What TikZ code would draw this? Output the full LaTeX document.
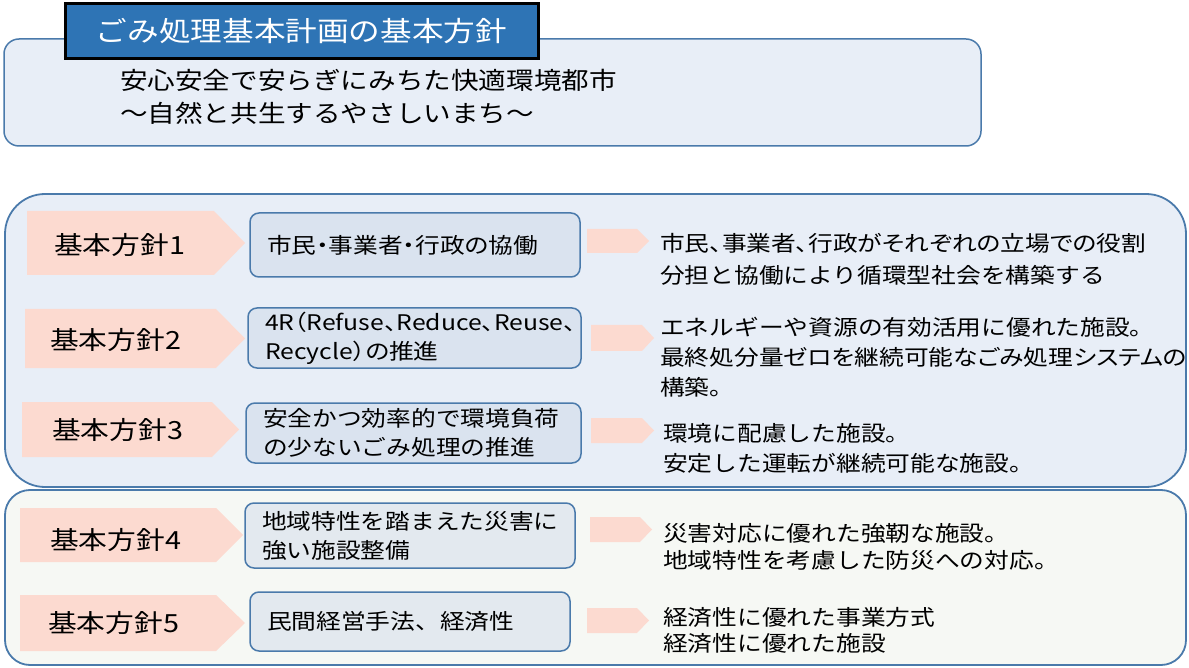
\documentclass[tikz,border=0pt]{standalone}
\usepackage{fontspec}
\setmainfont[FakeStretch=1.15]{Noto Sans CJK JP}
\definecolor{bordc}{HTML}{4A7AAB}
\definecolor{lightbg}{HTML}{E8EEF7}
\definecolor{greenbg}{HTML}{F6F8F4}
\definecolor{boxA}{HTML}{DAE3EF}
\definecolor{boxB}{HTML}{E3E9EF}
\definecolor{pinkc}{HTML}{FCDAD0}
\definecolor{headc}{HTML}{2E74B5}
\newcommand\fs[2]{\fontsize{#1}{#2}\selectfont}
\newcommand\prop{\addfontfeature{RawFeature=+palt}}
\begin{document}
\begin{tikzpicture}[x=1pt,y=-1pt,
  frame/.style={draw=bordc,line width=1.5pt},
  tbox/.style={frame,rounded corners=9pt,inner xsep=17pt,inner ysep=0pt,align=left,font=\fs{21.5}{29}},
  lbl/.style={anchor=west,inner sep=0pt,font=\fs{25}{30}},
  desc/.style={anchor=west,inner sep=0pt,align=left},
  pk/.style={fill=pinkc}
]
\useasboundingbox (0,0) rectangle (1189,668);
% top box
\draw[frame,fill=lightbg,rounded corners=15pt] (4,39) rectangle (981,146);
\node[draw=black,line width=3pt,fill=headc,text=white,minimum width=473pt,minimum height=55pt,inner sep=0pt,font=\fs{27.5}{30}] (head) at (301.5,31.5) {ごみ処理基本計画の基本方針};
\node[desc,font=\fs{24}{33}] (vision) at (120,96.5) {安心安全で安らぎにみちた快適環境都市\\～自然と共生するやさしいまち～};
% big boxes
\draw[frame,line width=1.8pt,fill=lightbg,rounded corners=40pt] (5,194) rectangle (1186,487);
\draw[frame,line width=1.8pt,fill=greenbg,rounded corners=25pt] (5,490) rectangle (1186,665);
% pentagons
\fill[pk] (27,211) -- (214,211) -- (245,243) -- (214,275) -- (27,275) -- cycle;
\fill[pk] (25,309) -- (216,309) -- (245,338.5) -- (216,368) -- (25,368) -- cycle;
\fill[pk] (22,402) -- (212,402) -- (239,429.5) -- (212,457) -- (22,457) -- cycle;
\fill[pk] (20,508) -- (216,508) -- (243,535) -- (216,562) -- (20,562) -- cycle;
\fill[pk] (20,595) -- (216,595) -- (245,623) -- (216,651) -- (20,651) -- cycle;
\node[lbl] (l1) at (54,245) {基本方針1};
\node[lbl] (l2) at (50,340) {基本方針2};
\node[lbl] (l3) at (52,430) {基本方針3};
\node[lbl] (l4) at (50,540) {基本方針4};
\node[lbl] (l5) at (48,623) {基本方針5};
% text boxes
\node[tbox,fill=boxA,minimum width=330pt,minimum height=64pt,text width=296pt] (b1) at (415,245) {\prop 市民・事業者・行政の協働};
\node[tbox,fill=boxA,minimum width=333pt,minimum height=60pt,text width=299pt] (b2) at (414.5,338) {\prop 4R（Refuse、Reduce、Reuse、\\Recycle）の推進};
\node[tbox,fill=boxA,minimum width=335pt,minimum height=60pt,text width=301pt] (b3) at (413.5,433) {安全かつ効率的で環境負荷\\の少ないごみ処理の推進};
\node[tbox,fill=boxB,minimum width=330pt,minimum height=65pt,text width=296pt] (b4) at (410,535.5) {地域特性を踏まえた災害に\\強い施設整備};
\node[tbox,fill=boxB,minimum width=320pt,minimum height=59pt,text width=286pt] (b5) at (410,621.5) {民間経営手法、経済性};
% small arrows
\fill[pk] (587,229) -- (637,229) -- (649,241) -- (637,253) -- (587,253) -- cycle;
\fill[pk] (591,325) -- (642,325) -- (654,338) -- (642,351) -- (591,351) -- cycle;
\fill[pk] (591,418) -- (642,418) -- (654,430.5) -- (642,443) -- (591,443) -- cycle;
\fill[pk] (590,517) -- (640,517) -- (652,529.5) -- (640,542) -- (590,542) -- cycle;
\fill[pk] (587,608) -- (637,608) -- (649,620.5) -- (637,633) -- (587,633) -- cycle;
% descriptions
\node[desc,font=\fs{21.5}{32}] (d1) at (660,259) {\prop 市民、事業者、行政がそれぞれの立場での役割\\分担と協働により循環型社会を構築する};
\node[desc,font=\fs{21.5}{30}] (d2) at (660,357) {エネルギーや資源の有効活用に優れた施設。\\{\prop 最終処分量ゼロを継続可能なごみ処理システムの}\\構築。};
\node[desc,font=\fs{21.5}{30}] (d3) at (663,448) {環境に配慮した施設。\\安定した運転が継続可能な施設。};
\node[desc,font=\fs{21.5}{27}] (d4) at (663,546.5) {災害対応に優れた強靭な施設。\\地域特性を考慮した防災への対応。};
\node[desc,font=\fs{21.5}{26}] (d5) at (663,630) {経済性に優れた事業方式\\経済性に優れた施設};
\end{tikzpicture}
\end{document}
